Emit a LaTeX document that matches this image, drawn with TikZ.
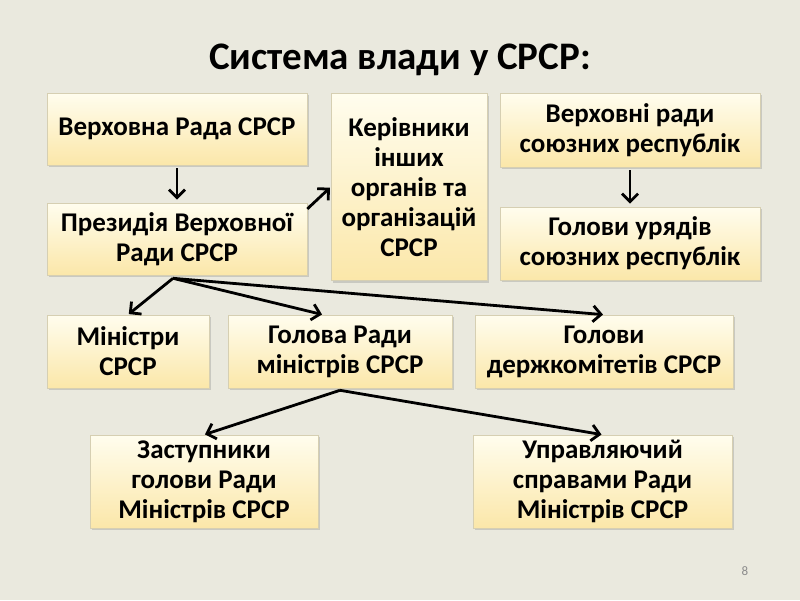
\documentclass[tikz,border=0pt]{standalone}
\usepackage{fontspec}
\setmainfont{Carlito}
\usetikzlibrary{positioning,shadows,arrows.meta}

\definecolor{slidebg}{HTML}{EAE9DE}
\definecolor{boxtop}{HTML}{FFFDEE}
\definecolor{boxbottom}{HTML}{FBE7A9}
\definecolor{boxline}{HTML}{D6CFB2}

\tikzset{
  organ/.style={draw=boxline, line width=0.6pt, top color=boxtop, bottom color=boxbottom,
    align=center, inner sep=0pt, font=\bfseries\fontsize{27}{30}\selectfont,
    drop shadow={shadow xshift=2pt, shadow yshift=-2pt, opacity=0.3, fill=black!50}},
  link/.style={->, line width=2.8pt, shorten >=1pt}
}

\begin{document}
\begin{tikzpicture}[x=1pt, y=-1pt, >={Straight Barb[length=8pt,width=16pt]}, node distance=110pt]

    % Slide
    \fill[slidebg] (0,0) rectangle (800,600);
    \useasboundingbox (0,0) rectangle (800,600);
    \node[font=\bfseries\fontsize{39}{44}\selectfont] (title) at (400,60) {Система влади у СРСР:};

    % Top row
    \node[organ, minimum width=260pt, minimum height=72pt] (rada) at (177,129) {Верховна Рада СРСР};
    \node[organ, minimum width=260pt, minimum height=72pt, below of=rada] (prez) {Президія Верховної\\Ради СРСР};
    \node[organ, minimum width=156pt, minimum height=187pt] (kerivn) at (409,187) {Керівники\\інших\\органів та\\організацій\\СРСР};
    \node[organ, minimum width=260pt, minimum height=74pt] (verkhrady) at (630,130) {Верховні ради\\союзних республік};
    \node[organ, minimum width=260pt, minimum height=73pt, below of=verkhrady, node distance=113.5pt] (uriady) {Голови урядів\\союзних республік};

    % Middle row
    \node[organ, minimum width=162pt, minimum height=73pt] (ministry) at (128,351.5) {Міністри\\СРСР};
    \node[organ, minimum width=224pt, minimum height=73pt] (holova) at (340,351.5) {Голова Ради\\міністрів СРСР};
    \node[organ, minimum width=258pt, minimum height=73pt] (derzhkom) at (604,351.5) {Голови\\держкомітетів СРСР};

    % Bottom row
    \node[organ, minimum width=228pt, minimum height=93pt] (zast) at (204,481.5) {Заступники\\голови Ради\\Міністрів СРСР};
    \node[organ, minimum width=259pt, minimum height=93pt] (uprav) at (602.5,481.5) {Управляючий\\справами Ради\\Міністрів СРСР};

    % Page number
    \node[text=black!45, font=\fontsize{13}{15}\selectfont] (page) at (745,571) {8};

    % Arrows
    \draw[link, shorten <=3pt, shorten >=3pt] (rada) -- (prez);
    \draw[link, shorten <=3pt, shorten >=3pt] (verkhrady) -- (uriady);
    \draw[link] (prez.13) -- (kerivn.west);
    \draw[link] ([xshift=-4pt, yshift=-3pt]prez.south) -- (ministry.north);
    \draw[link] ([xshift=-4pt, yshift=-3pt]prez.south) -- ([xshift=-17pt]holova.north);
    \draw[link] ([xshift=-4pt, yshift=-3pt]prez.south) -- (derzhkom.north);
    \draw[link] ([yshift=-2pt]holova.south) -- (zast.north);
    \draw[link] ([yshift=-2pt]holova.south) -- (uprav.north);

\end{tikzpicture}
\end{document}
